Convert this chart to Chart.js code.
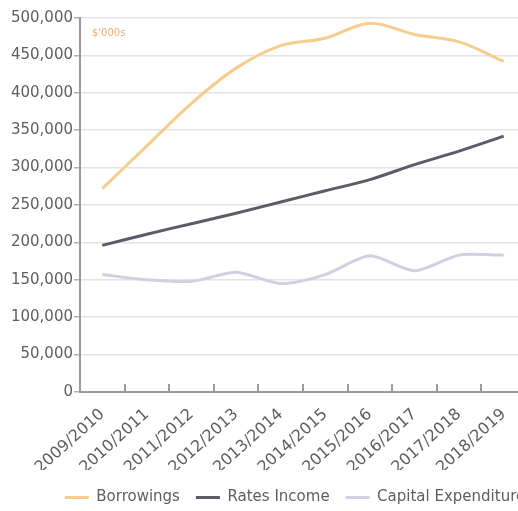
<!DOCTYPE html>
<html>
<head>
<meta charset="utf-8">
<title>Borrowings, Rates Income and Capital Expenditure</title>
<script src="https://cdn.jsdelivr.net/npm/chart.js@4.4.1/dist/chart.umd.min.js"></script>
<style>
  html, body { margin: 0; padding: 0; background: #fff; overflow: hidden; }
  #wrap { width: 593px; height: 511px; }
</style>
</head>
<body>
<div id="wrap"><canvas id="chart"></canvas></div>
<script>
const years = ['2009/2010', '2010/2011', '2011/2012', '2012/2013', '2013/2014',
               '2014/2015', '2015/2016', '2016/2017', '2017/2018', '2018/2019'];
const borrowings = [272000, 329000, 386000, 433000, 463000, 473000, 493000, 478000, 468000, 442000];
const ratesIncome = [196000, 211000, 225000, 239000, 254000, 269000, 284000, 304000, 322000, 342000];
const capitalExpenditure = [157000, 150000, 148000, 160000, 145000, 157000, 182000, 162000, 183000, 183000];
const unitsLabel = "$'000s";

const labelFont = { family: 'DejaVu Sans', size: 15 };
const labelColor = '#5e5e5e';

// nudge the legend so it sits under the plot rather than the full canvas
const legendShift = {
    id: 'legendShift',
    afterLayout(chart) {
        const lg = chart.legend;
        lg.left += 32; lg.right += 32;
        lg.top += 4; lg.bottom += 4;
    }
};

// short upward tick marks between categories on the x axis, plus the units note
const axisExtras = {
    id: 'axisExtras',
    afterDraw(chart) {
        const { ctx, chartArea, scales } = chart;
        const x = scales.x;
        ctx.save();
        ctx.strokeStyle = '#9a9a9a';
        ctx.lineWidth = 2;
        for (let i = 1; i < years.length; i++) {
            const px = Math.round((x.getPixelForValue(i - 1) + x.getPixelForValue(i)) / 2);
            ctx.beginPath();
            ctx.moveTo(px, chartArea.bottom);
            ctx.lineTo(px, chartArea.bottom - 8);
            ctx.stroke();
        }
        ctx.fillStyle = '#f0ad72';
        ctx.font = '10px "DejaVu Sans"';
        ctx.textBaseline = 'middle';
        ctx.fillText(unitsLabel, chartArea.left + 12, chartArea.top + 15);
        ctx.restore();
    }
};

const ctx = document.getElementById('chart').getContext('2d');
new Chart(ctx, {
    type: 'line',
    data: {
        labels: years,
        datasets: [
            {
                label: 'Borrowings',
                data: borrowings,
                borderColor: '#f6cd8c',
                backgroundColor: '#f6cd8c',
                borderWidth: 3,
                tension: 0.35,
                pointRadius: 0,
            },
            {
                label: 'Rates Income',
                data: ratesIncome,
                borderColor: '#5a5c69',
                backgroundColor: '#5a5c69',
                borderWidth: 3,
                tension: 0.3,
                pointRadius: 0,
            },
            {
                label: 'Capital Expenditure',
                data: capitalExpenditure,
                borderColor: '#cfd0e0',
                backgroundColor: '#cfd0e0',
                borderWidth: 3,
                tension: 0.25,
                pointRadius: 0,
            },
        ],
    },
    options: {
        responsive: true,
        maintainAspectRatio: false,
        animation: false,
        layout: { padding: { top: 18, right: 67, left: 0, bottom: 0 } },
        plugins: {
            legend: {
                position: 'bottom',
                labels: {
                    usePointStyle: true,
                    pointStyle: 'line',
                    pointStyleWidth: 24,
                    padding: 16,
                    color: labelColor,
                    font: labelFont,
                },
            },
            tooltip: { enabled: false },
        },
        scales: {
            x: {
                offset: true,
                afterFit(scale) { scale.height = 78; },
                grid: { display: true, drawOnChartArea: false, drawTicks: false, offset: true },
                border: { display: true, color: '#9a9a9a', width: 2 },
                ticks: {
                    minRotation: 42,
                    maxRotation: 42,
                    padding: 13,
                    color: labelColor,
                    font: { family: 'DejaVu Sans', size: 16 },
                },
            },
            y: {
                min: 0,
                max: 500000,
                afterFit(scale) { scale.width = 80; },
                grid: { color: '#e3e3e3', lineWidth: 1.5, tickLength: 6, tickColor: '#b0b0b0' },
                border: { display: true, color: '#9a9a9a', width: 2 },
                ticks: {
                    stepSize: 50000,
                    padding: 1,
                    color: labelColor,
                    font: labelFont,
                    callback: v => v.toLocaleString('en-US'),
                },
            },
        },
    },
    plugins: [legendShift, axisExtras],
});
</script>
</body>
</html>
